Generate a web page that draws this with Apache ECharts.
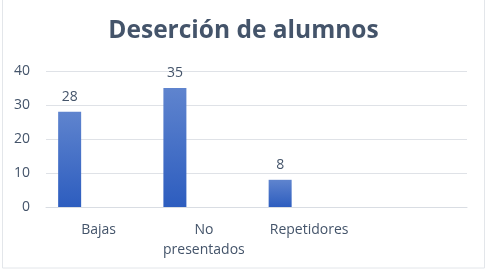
<!DOCTYPE html>
<html>
<head>
<meta charset="utf-8">
<script src="https://cdn.jsdelivr.net/npm/echarts@6/dist/echarts.min.js"></script>
<style>
  html, body { margin: 0; padding: 0; background: #fff; }
  #chart { width: 487px; height: 271px; }
</style>
</head>
<body>
<div id="chart"></div>
<script>
var categories = ["Bajas", "No\npresentados", "Repetidores", ""];
var alumnos = [28, 35, 8, null];
var serie2 = [null, null, null, null];
var serie3 = [null, null, null, null];
var yTicks = [0, 10, 20, 30, 40];

var chart = echarts.init(document.getElementById("chart"));
var barColor = new echarts.graphic.LinearGradient(0, 0, 0, 1, [
  {offset: 0, color: "#5f84ce"},
  {offset: 1, color: "#2d5dbf"}
]);
var font = "'Open Sans', 'Liberation Sans', sans-serif";

chart.setOption({
  animation: false,
  title: {
    text: "Deserción de alumnos", left: "center", top: 14,
    textStyle: {fontFamily: font, fontSize: 24.5, fontWeight: "bold", color: "#44546a"}
  },
  graphic: [{
    type: "rect", silent: true,
    shape: {x: 2.5, y: -1, width: 482, height: 269},
    style: {fill: "none", stroke: "#e3e6ea", lineWidth: 1}
  }],
  grid: {left: 46, right: 20, top: 71, bottom: 64},
  xAxis: {
    type: "category", data: categories,
    axisLine: {lineStyle: {color: "#d9dde3"}},
    axisTick: {show: false},
    axisLabel: {fontFamily: font, fontSize: 14, color: "#44546a", margin: 13, lineHeight: 20, interval: 0}
  },
  yAxis: {
    type: "value", min: yTicks[0], max: yTicks[yTicks.length - 1], interval: 10,
    axisLine: {show: false}, axisTick: {show: false},
    axisLabel: {fontFamily: font, fontSize: 14, color: "#44546a", margin: 16},
    splitLine: {lineStyle: {color: "#dfe2e7", width: 1}}
  },
  series: [
    {type: "bar", data: alumnos, barWidth: 23, barGap: "26%", itemStyle: {color: barColor},
     label: {show: true, position: "top", distance: 8, fontFamily: font, fontSize: 14, color: "#44546a"}},
    {type: "bar", data: serie2, barWidth: 23, barGap: "26%"},
    {type: "bar", data: serie3, barWidth: 23, barGap: "26%"}
  ]
});
</script>
</body>
</html>
